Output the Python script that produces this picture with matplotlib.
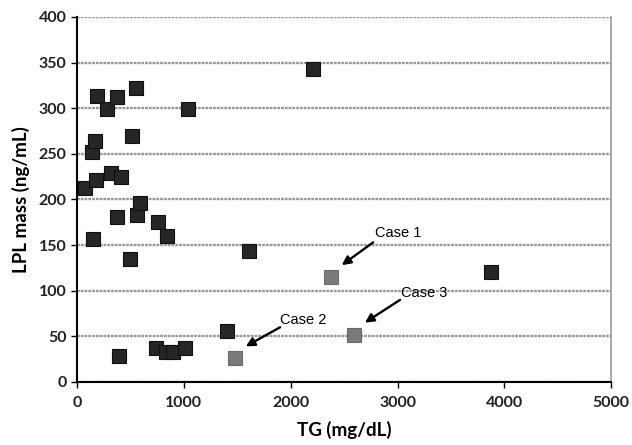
import numpy as np
import matplotlib.pyplot as plt

# TG vs LPL mass, patients
tg = [75, 143, 153, 169, 178, 184, 278, 318, 372, 377, 396, 412, 496, 518, 552,
      565, 590, 740, 761, 830, 840, 900, 1010, 1042, 1402, 1613, 2207, 3876]
lpl = [212, 252, 157, 264, 221, 313, 299, 229, 181, 312, 28, 225, 135, 270, 322,
       183, 196, 37, 175, 33, 160, 33, 37, 299, 56, 143, 343, 121]

# highlighted cases
case_names = ["Case 1", "Case 2", "Case 3"]
case_tg = [2378, 1479, 2594]
case_lpl = [115, 26, 52]
case_text_pos = [(3006, 163), (2116, 68), (3249, 98)]
case_arrow_tail = [(2772, 153), (1901, 60), (3024, 90)]

plt.rcParams['font.family'] = ['Lato', 'DejaVu Sans']

fig = plt.figure(figsize=(6.32, 4.45), dpi=100)
ax = fig.add_axes([0.122, 0.1416, 0.845, 0.8204])

ax.set_axisbelow(True)
ax.grid(axis='y', color='#999999', linewidth=1.7, linestyle=(0, (1.2, 0.4)))

ax.scatter(tg, lpl, marker='s', s=115, color='#262626', edgecolors='#111111',
           linewidths=0.8, zorder=3)
ax.scatter(case_tg, case_lpl, marker='s', s=115, color='#7a7a7a', edgecolors='#6a6a6a',
           linewidths=0.8, zorder=3)

for name, (tx, ty), (ax0, ay0), cx, cy in zip(case_names, case_text_pos, case_arrow_tail,
                                            case_tg, case_lpl):
    ax.text(tx, ty, name, fontsize=10.5, family=['Liberation Sans', 'DejaVu Sans'],
            ha='center', va='center', zorder=4)
    ax.annotate('', xy=(cx + 100, cy + 13), xytext=(ax0, ay0),
                arrowprops=dict(arrowstyle='-|>', color='black', lw=1.7,
                                mutation_scale=13, shrinkA=0, shrinkB=0), zorder=4)

ax.set_xlim(0, 5000)
ax.set_ylim(0, 400)
ax.set_xticks(np.arange(0, 5001, 1000))
ax.set_yticks(np.arange(0, 401, 50))

ax.spines['left'].set_color('black')
ax.spines['left'].set_linewidth(1.5)
ax.spines['bottom'].set_color('black')
ax.spines['bottom'].set_linewidth(1.5)
ax.spines['top'].set_visible(False)
ax.spines['right'].set_color('#9a9a9a')
ax.spines['right'].set_linewidth(1.2)

ax.tick_params(axis='both', direction='out', length=4, width=1, labelsize=11.5)
ax.tick_params(axis='x', pad=6)
for lab in ax.get_xticklabels() + ax.get_yticklabels():
    lab.set_fontweight('bold')
    lab.set_color('#222222')

ax.set_xlabel("TG (mg/dL)", fontsize=13.5, fontweight='bold', labelpad=8)
ax.set_ylabel("LPL mass (ng/mL)", fontsize=13.5, fontweight='bold', labelpad=6)

fig.savefig("out.png", dpi=100)
